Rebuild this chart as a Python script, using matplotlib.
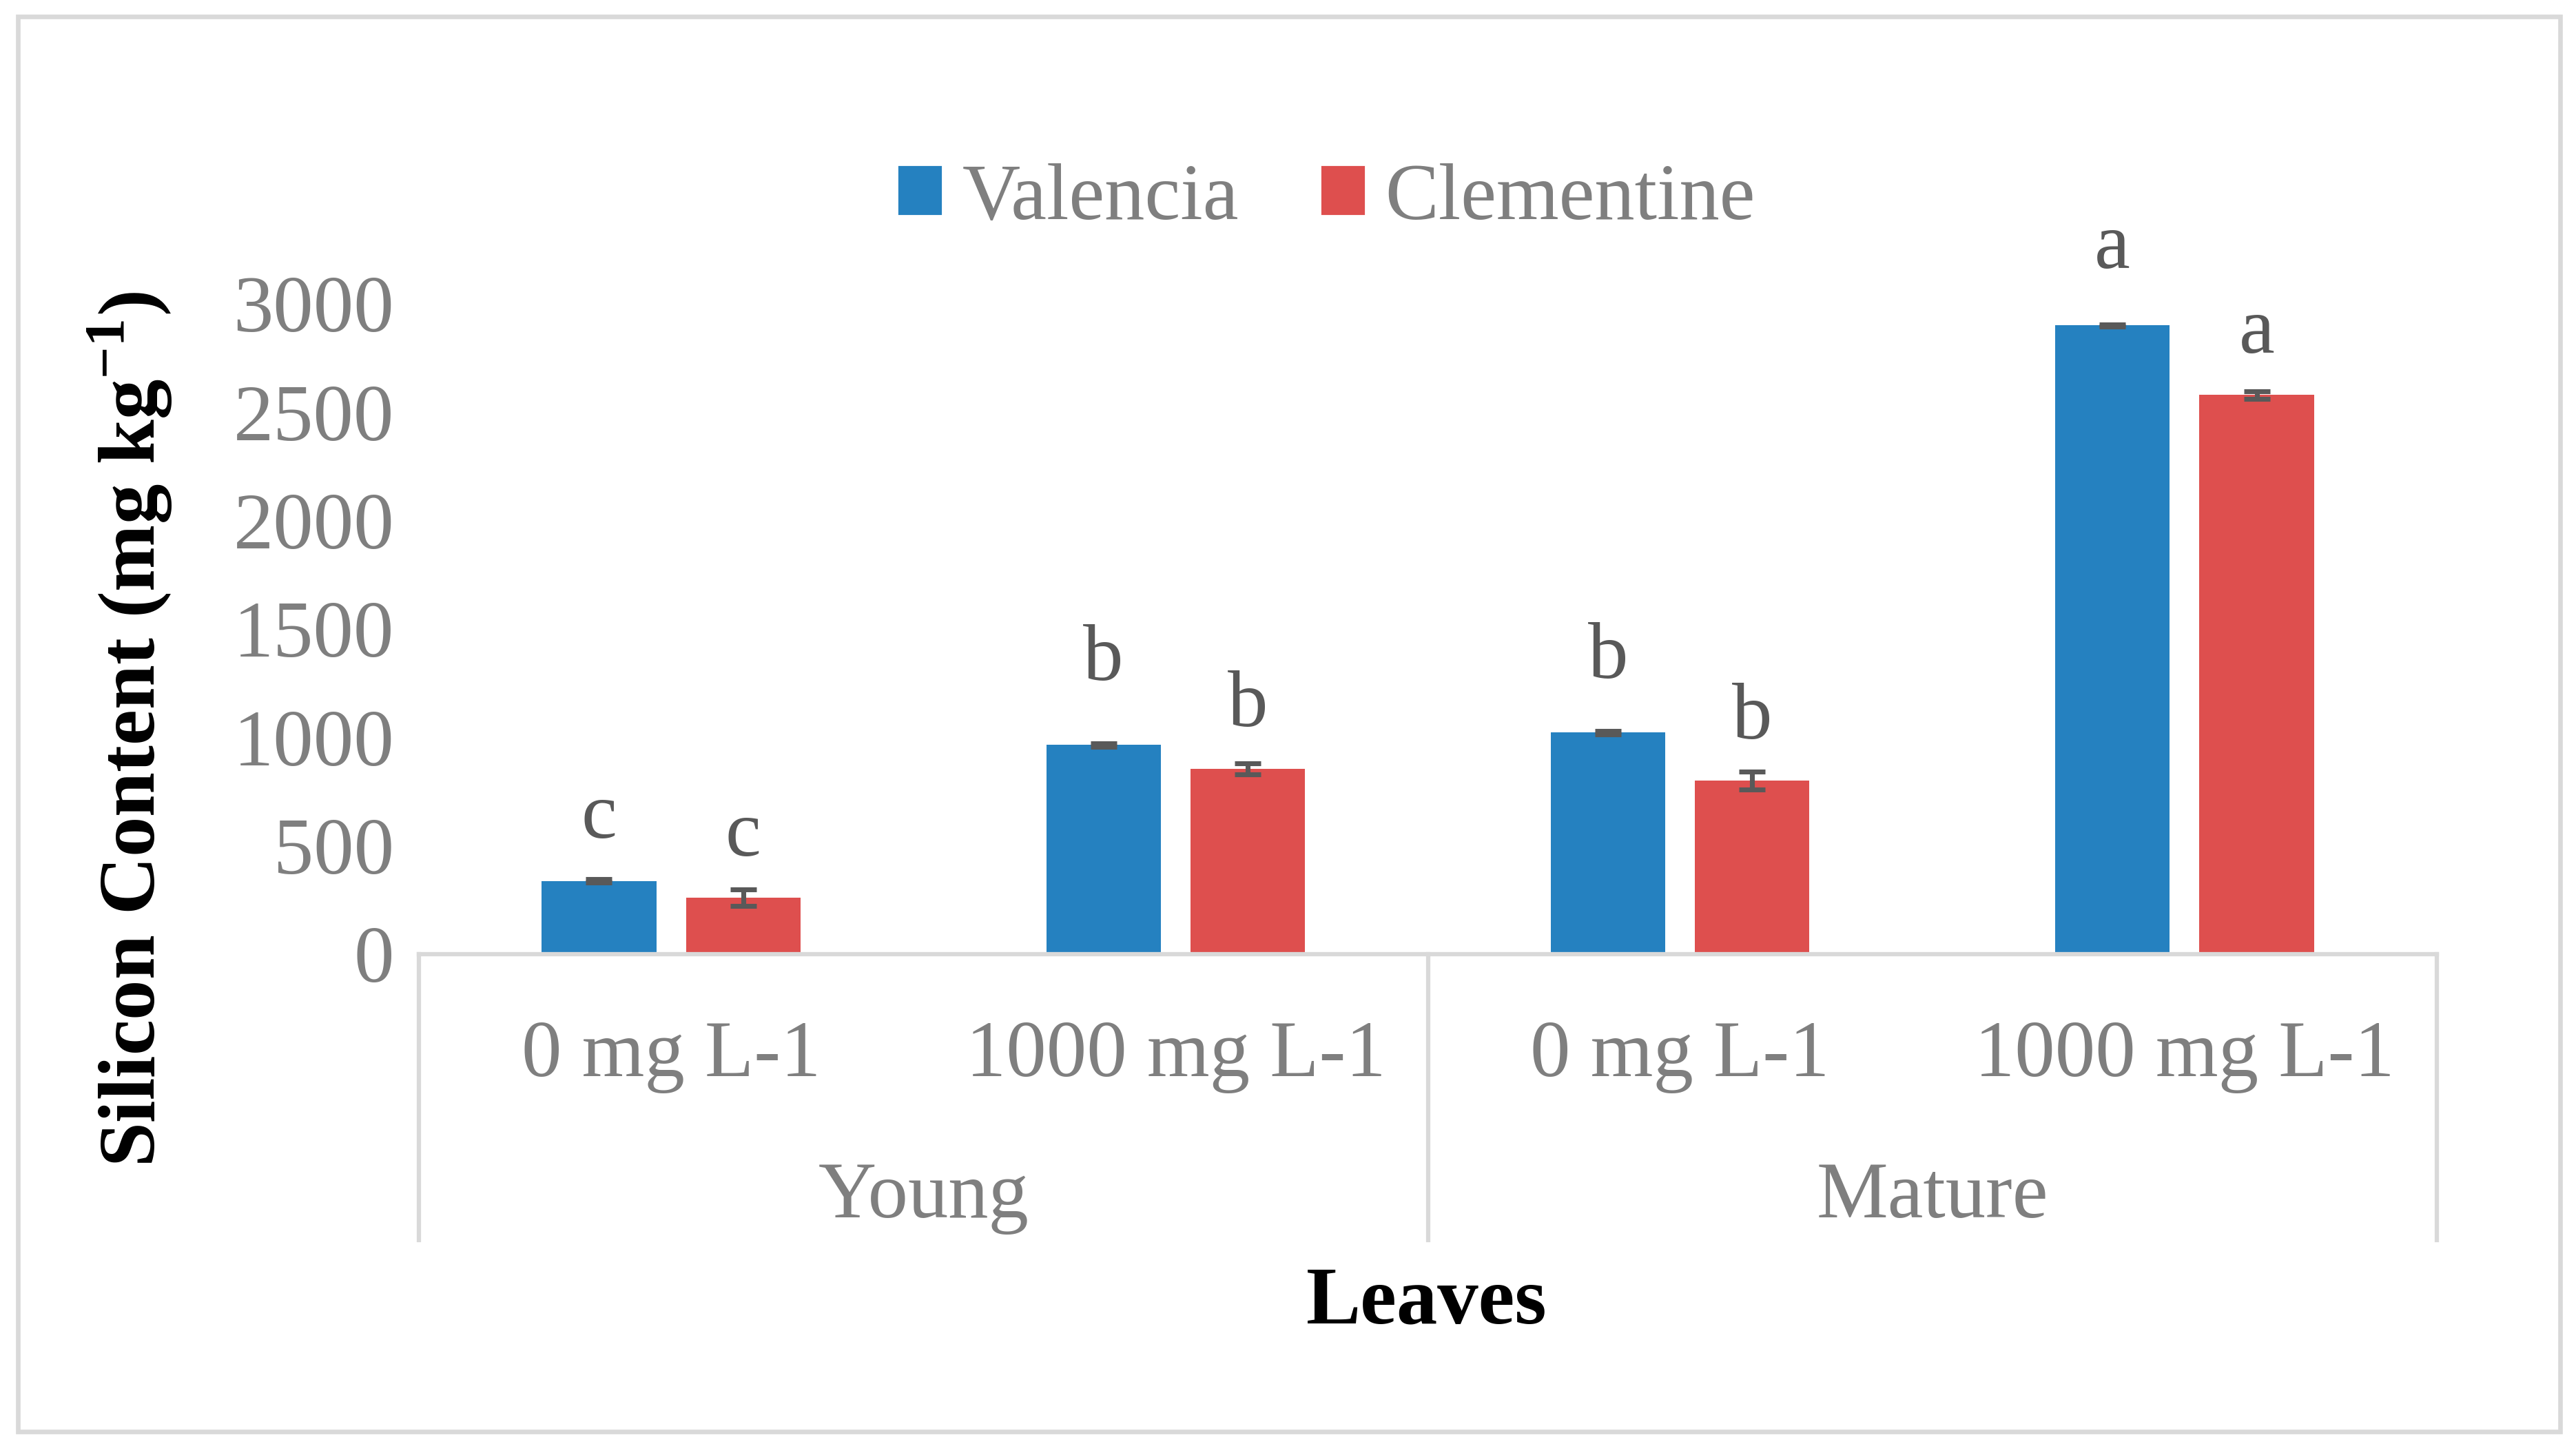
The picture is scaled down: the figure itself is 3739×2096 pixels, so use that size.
"""
Silicon content of young and mature leaves, Valencia vs Clementine.
"""

import numpy as np
import matplotlib.pyplot as plt
from matplotlib.patches import Rectangle, Patch

plt.rcParams['font.family'] = ['Liberation Serif', 'DejaVu Serif']
plt.rcParams['mathtext.fontset'] = 'custom'
plt.rcParams['mathtext.rm'] = 'Liberation Serif'
plt.rcParams['mathtext.bf'] = 'Liberation Serif:bold'

# Data
groups = ["Young", "Mature"]
doses = ["0 mg L-1", "1000 mg L-1", "0 mg L-1", "1000 mg L-1"]
series = ["Valencia", "Clementine"]
valencia = [337, 966, 1023, 2901]
valencia_err = [8, 8, 8, 5]
clementine = [261, 855, 801, 2580]
clementine_err = [37, 24, 40, 17]
valencia_letters = ["c", "b", "b", "a"]
clementine_letters = ["c", "b", "b", "a"]

BLUE = '#2581c0'
RED = '#de4f4e'
GRID = '#d9d9d9'
TICK = '#7f7f7f'
LETTER = '#595959'

W, H, DPI = 3739, 2096, 300

fig = plt.figure(figsize=(W / DPI, H / DPI), dpi=DPI)
ax = fig.add_axes([608 / W, 1 - 1385 / H, (3537 - 608) / W, (1385 - 441) / H])

x = np.arange(len(doses))
off = 0.143
bw = 0.227
err_kw = dict(ecolor=LETTER, elinewidth=1.7, capsize=4.6, capthick=1.7)
ax.bar(x - off, valencia, bw, color=BLUE, yerr=valencia_err, error_kw=err_kw, zorder=2)
ax.bar(x + off, clementine, bw, color=RED, yerr=clementine_err, error_kw=err_kw, zorder=2)

# significance letters (offsets in points above the bar top)
v_pad = [15, 22.5, 19, 20]
c_pad = [14.6, 14.9, 14.6, 14.6]
for i in range(len(doses)):
    ax.annotate(valencia_letters[i], (x[i] - off, valencia[i]), xytext=(0, v_pad[i]),
                textcoords='offset points', ha='center', va='baseline',
                fontsize=28, color=LETTER, annotation_clip=False)
    ax.annotate(clementine_letters[i], (x[i] + off, clementine[i]), xytext=(0, c_pad[i]),
                textcoords='offset points', ha='center', va='baseline',
                fontsize=28, color=LETTER, annotation_clip=False)

ax.set_xlim(-0.5, 3.5)
ax.set_ylim(0, 3000)
ax.set_yticks(np.arange(0, 3001, 500))
ax.tick_params(axis='y', length=0, pad=8.6, labelsize=28, labelcolor=TICK)
ax.set_xticks([])
for s in ['top', 'right', 'left']:
    ax.spines[s].set_visible(False)
ax.spines['bottom'].set_color(GRID)
ax.spines['bottom'].set_linewidth(1.5)

# two-level category axis
trans = ax.get_xaxis_transform()
for xs in [-0.5, 1.5, 3.5]:
    ax.plot([xs, xs], [0, -0.44], transform=trans, color=GRID, lw=1.5, clip_on=False)
for i, lab in enumerate(doses):
    ax.text(x[i], -0.1875, lab, transform=trans, ha='center', va='baseline',
            fontsize=28, color=TICK)
for j, g in enumerate(groups):
    ax.text(0.5 + 2 * j, -0.4047, g, transform=trans, ha='center', va='baseline',
            fontsize=28, color=TICK)

fig.text(2071 / W, 1 - 1920 / H, "Leaves", ha='center', va='baseline',
         fontsize=28.5, fontweight='bold', color='black')
fig.text(225 / W, 1 - 1058 / H, r"Silicon Content (mg kg$^{\mathbf{-1}}$)", rotation=90,
         ha='center', va='baseline', rotation_mode='anchor', fontsize=28,
         fontweight='bold', color='black')

handles = [Patch(color=BLUE, label=series[0]), Patch(color=RED, label=series[1])]
leg = fig.legend(handles=handles, loc='center', bbox_to_anchor=(1927 / W, 1 - 290 / H),
                 ncol=2, frameon=False, fontsize=28, handlelength=0.5, handleheight=0.5,
                 handletextpad=0.27, columnspacing=1.05)
for t in leg.get_texts():
    t.set_color(TICK)

# outer chart border
fig.patches.append(Rectangle((26 / W, 18 / H), (3716 - 26) / W, (2072 - 18) / H,
                             transform=fig.transFigure, fill=False, edgecolor=GRID, lw=1.6))

fig.savefig("out.png", dpi=DPI)
